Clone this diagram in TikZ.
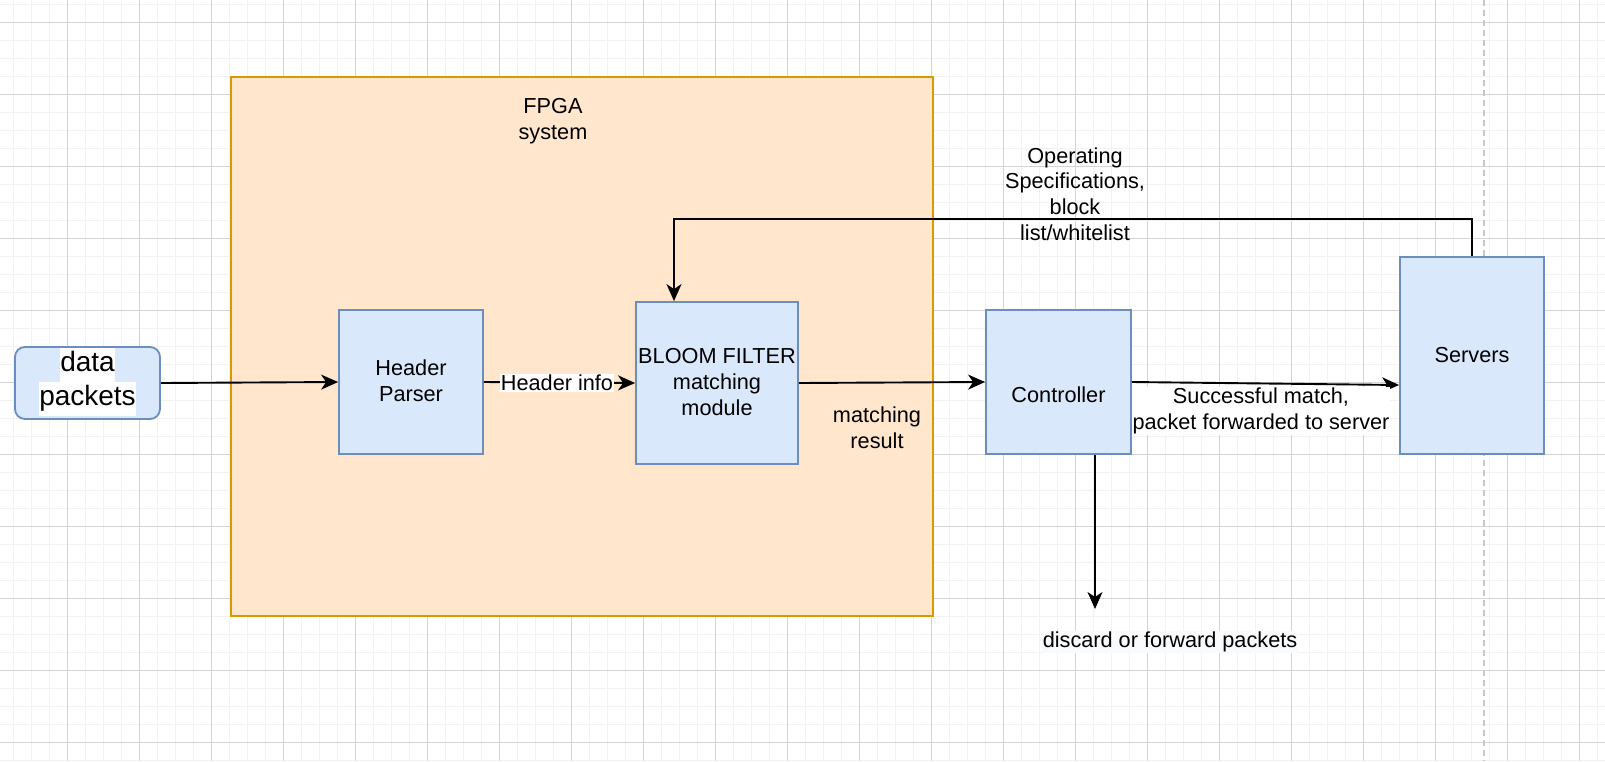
\documentclass[tikz,border=0pt]{standalone}
\usepackage{fontspec}
\setmainfont{Liberation Sans}
\usetikzlibrary{arrows.meta}
\definecolor{bluefill}{HTML}{DAE8FC}
\definecolor{bluedraw}{HTML}{6C8EBF}
\definecolor{orfill}{HTML}{FFE6CC}
\definecolor{ordraw}{HTML}{D79B00}
\definecolor{gridmaj}{HTML}{D4D4D4}
\definecolor{gridmin}{HTML}{F2F2F2}
\definecolor{dashcol}{HTML}{C8C8C8}
\definecolor{lblbg}{HTML}{F8FAFC}
\tikzset{
  bluebox/.style={draw=bluedraw, fill=bluefill, line width=1.8pt, inner sep=0pt, align=center},
  arr/.style={line width=1.9pt, -{Stealth[length=17pt,width=15pt,inset=5pt]}},
  lbl/.style={inner sep=1pt, align=center},
  txt/.style={font=\fontsize{21.7}{25.6}\selectfont}
}
\begin{document}
\begin{tikzpicture}[x=1pt,y=-1pt]
\useasboundingbox (0,0) rectangle (1605,761);
\fill[white] (0,0) rectangle (1605,761);
% grid
\foreach \i in {0,...,89} {\draw[gridmin, line width=1.2pt] ({13.3+18*\i},0) -- ({13.3+18*\i},761);}
\foreach \i in {0,...,42} {\draw[gridmin, line width=1.2pt] (0,{4.3+18*\i}) -- (1605,{4.3+18*\i});}
\foreach \i in {0,...,21} {\draw[gridmaj, line width=1pt] ({67.3+72*\i},0) -- ({67.3+72*\i},761);}
\foreach \i in {0,...,10} {\draw[gridmaj, line width=1pt] (0,{22.3+72*\i}) -- (1605,{22.3+72*\i});}
\draw[dashcol, line width=1.5pt, dash pattern=on 6pt off 4pt] (1484,0) -- (1484,761);

% FPGA system
\node[draw=ordraw, fill=orfill, line width=1.8pt, minimum width=702pt, minimum height=539pt, inner sep=0pt] (fpga) at (582,346.5) {};
\node[txt, lbl] (fpgalbl) at (553,121) {FPGA\\system};

% data packets
\node[draw=bluedraw, fill=bluefill, line width=1.8pt, rounded corners=10pt, minimum width=145pt, minimum height=72pt, inner sep=0pt] (data) at (87.5,383) {};
\node[font=\fontsize{28}{34}\selectfont, align=center, inner sep=0pt] (datalbl) at (87.5,382) {\setlength{\fboxsep}{0pt}\colorbox{white}{\strut data}\\\setlength{\fboxsep}{0pt}\colorbox{white}{\strut packets}};

% boxes
\node[bluebox, minimum width=144pt, minimum height=144pt] (hp) at (411,382) {};
\node[txt, lbl] (hplbl) at (411,381) {Header\\Parser};
\node[bluebox, minimum width=162pt, minimum height=162pt] (bloom) at (717,383) {};
\node[txt, lbl] (bloomlbl) at (717,382) {BLOOM FILTER\\matching\\module};
\node[bluebox, minimum width=145pt, minimum height=144pt] (ctrl) at (1058.5,382) {};
\node[txt, lbl] (ctrllbl) at (1058.5,395) {Controller};
\node[bluebox, minimum width=144pt, minimum height=197pt] (srv) at (1472,355.5) {};
\node[txt, lbl] (srvlbl) at (1472,355) {Servers};

% connectors
\draw[arr] (data.east) -- (hp.west);
\draw[arr] (hp.east) -- (bloom.west);
\node[txt, lbl, fill=white] (hinfo) at (557,383) {Header info};
\draw[arr] (bloom.east) -- (ctrl.west);
\node[txt, lbl] (mres) at (877,428) {matching\\result};
\draw[arr] (ctrl.east) -- ([yshift=-29.5pt]srv.west);
\node[txt, lbl, fill=white] (smatch) at (1261,411) {Successful match,\\packet forwarded to server};
\draw[arr] (srv.north) -- ++(0,-37) -| ([xshift=-43pt]bloom.north);
\node[txt, lbl] (ospec) at (1075,194) {Operating\\Specifications,\\block\\list/whitelist};
\coordinate (dend) at (1095,609);
\draw[arr] (ctrl.south -| dend) -- (dend);
\node[txt, lbl, fill=lblbg] (disc) at (1170,642) {discard or forward packets};
\end{tikzpicture}
\end{document}
